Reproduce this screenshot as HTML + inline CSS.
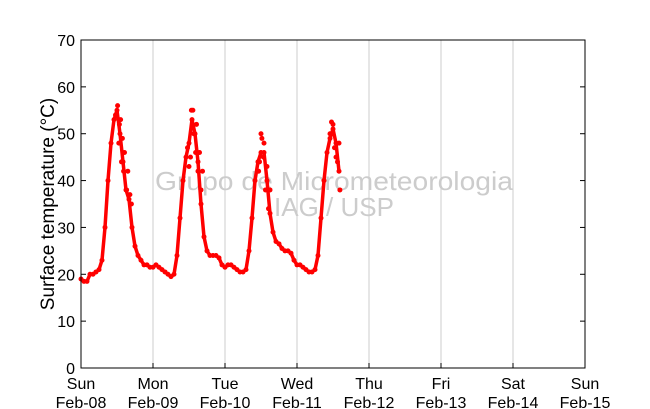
<!DOCTYPE html>
<html><head><meta charset="utf-8"><style>
body{margin:0;background:#fff;}
svg{display:block;font-family:"Liberation Sans",sans-serif;}
</style></head><body>
<svg id="chart" width="650" height="409">
<rect x="0" y="0" width="650" height="409" fill="#fff"/>
<g id="grid"></g>
<text x="334" y="190" text-anchor="middle" font-size="26" textLength="358" lengthAdjust="spacingAndGlyphs" fill="#cccccc">Grupo de Micrometeorologia</text>
<text x="334" y="216" text-anchor="middle" font-size="26" fill="#cccccc">IAG / USP</text>
<g id="series"></g>
<rect x="81" y="40" width="504" height="328" fill="none" stroke="#000" stroke-width="1"/>
<g id="axes"></g>
<text transform="translate(54,204) rotate(-90)" text-anchor="middle" font-size="19" fill="#000">Surface temperature (°C)</text>
</svg>
<script>
const dayNames=["Sun","Mon","Tue","Wed","Thu","Fri","Sat","Sun"];
const dayDates=["Feb-08","Feb-09","Feb-10","Feb-11","Feb-12","Feb-13","Feb-14","Feb-15"];
const yTicks=[0,10,20,30,40,50,60,70];
const hours=[];for(let i=0;i<=86;i++)hours.push(i);
const temps=[19,18.5,18.5,20,20,20.5,21,23,30,40,48,53,55,50,44,38,36,30,26,24,23,22,22,21.5,21.5,
22,21.5,21,20.5,20,19.5,20,24,32,40,45,48,53,50,44,35,28,25,24,24,24,23.5,22,21.5,
22,22,21.5,21,20.5,20.5,21,25,32,40,44,46,46,40,33,29,27,26.5,25.5,25,25,24.5,23,22,
22,21.5,21,20.5,20.5,21,24,32,40,46,49,51,48,42];
const peakHours=[11.5,12.2,12.6,13.2,13.5,13.8,14.2,14.5,15.2,15.6,16.3,16.8,12.8,
36.5,36.8,37.3,37.6,38.2,38.5,39,39.5,40,40.5,35.5,36,
59.5,60,60.3,60.8,61,61.5,62,62.5,63,59.2,
83,83.5,84,84.5,85,85.5,86,86.3];
const peakTemps=[54,56,48,53,44,49,42,46,38,42,37,35,52,
45,55,55,50,46,52,42,46,38,42,47,43,
44,50,49,45,48,38,43,34,38,42,
50,52.5,52,47,45,44,48,38];
const X0=81,X1=585,Y0=368,Y1=40;
const xs=h=>X0+h*(X1-X0)/168;
const ys=v=>Y0-v*(Y0-Y1)/70;
const NS="http://www.w3.org/2000/svg";
const grid=document.getElementById('grid'),axes=document.getElementById('axes'),ser=document.getElementById('series');
function mk(tag,attrs,parent){const e=document.createElementNS(NS,tag);for(const k in attrs)e.setAttribute(k,attrs[k]);parent.appendChild(e);return e;}
dayNames.forEach((d,i)=>{
  const x=xs(i*24);
  if(i>0&&i<7){const g=mk('line',{x1:x,x2:x,y1:Y1,y2:Y0,stroke:'#cccccc','stroke-width':1},grid);
  
  }
  const t=mk('line',{x1:x,x2:x,y1:Y0,y2:Y0-5,stroke:'#000'},axes);
  
  
  const l1=mk('text',{x:x,y:389,'text-anchor':'middle','font-size':16},axes);l1.textContent=d;
  
  
  const l2=mk('text',{x:x,y:408,'text-anchor':'middle','font-size':16},axes);l2.textContent=dayDates[i];
  
  
});
yTicks.forEach(v=>{
  const y=ys(v);
  const t=mk('line',{x1:X0,x2:X0+5,y1:y,y2:y,stroke:'#000'},axes);
  
  
  const t2=mk('line',{x1:X1,x2:X1-5,y1:y,y2:y,stroke:'#000'},axes);
  
  
  const l=mk('text',{x:75,y:y+6,'text-anchor':'end','font-size':16},axes);l.textContent=v;
  
  
});
const pts=hours.map((h,i)=>xs(h).toFixed(1)+','+ys(temps[i]).toFixed(1)).join(' ');
const pl=mk('polyline',{points:pts,fill:'none',stroke:'#ff0000','stroke-width':3.5,'stroke-linejoin':'round','stroke-linecap':'round'},ser);


hours.forEach((h,i)=>{const c=mk('circle',{cx:xs(h),cy:ys(temps[i]),r:2.5,fill:'#ff0000'},ser);

});
peakHours.forEach((h,i)=>{const c=mk('circle',{cx:xs(h),cy:ys(peakTemps[i]),r:2.5,fill:'#ff0000'},ser);

});
</script>
</body></html>
